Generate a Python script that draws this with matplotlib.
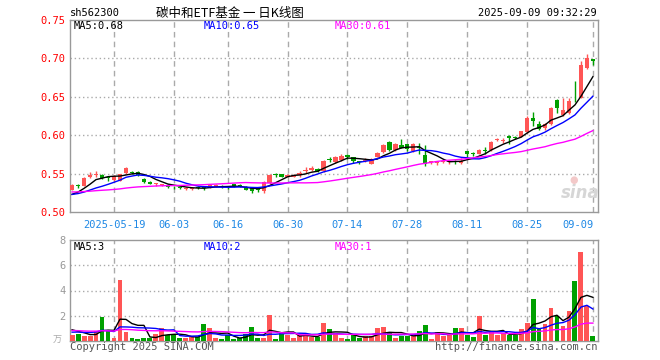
import matplotlib
matplotlib.use("Agg")
import matplotlib.pyplot as plt
import numpy as np
import pandas as pd

# trading days shown, 2025-05-08 .. 2025-09-09
dates = (
    ["05-08", "05-09", "05-12", "05-13", "05-14", "05-15", "05-16", "05-19", "05-20",
     "05-21", "05-22", "05-23", "05-26", "05-27", "05-28", "05-29", "05-30"]
    + ["06-03", "06-04", "06-05", "06-06", "06-09", "06-10", "06-11", "06-12", "06-13",
       "06-16", "06-17", "06-18", "06-19", "06-20", "06-23", "06-24", "06-25", "06-26",
       "06-27", "06-30"]
    + ["07-01", "07-02", "07-03", "07-04", "07-07", "07-08", "07-09", "07-10", "07-11",
       "07-14", "07-15", "07-16", "07-17", "07-18", "07-21", "07-22", "07-23", "07-24",
       "07-25", "07-28", "07-29", "07-30", "07-31"]
    + ["08-01", "08-04", "08-05", "08-06", "08-07", "08-08", "08-11", "08-12", "08-13",
       "08-14", "08-15", "08-18", "08-19", "08-20", "08-21", "08-22", "08-25", "08-26",
       "08-27", "08-28", "08-29"]
    + ["09-01", "09-02", "09-03", "09-04", "09-05", "09-08", "09-09"]
)

open_ = [0.529, 0.535, 0.534, 0.546, 0.548, 0.548, 0.545, 0.542, 0.541, 0.551,
         0.552, 0.552, 0.543, 0.539, 0.537, 0.535, 0.535, 0.533, 0.532, 0.530,
         0.530, 0.532, 0.532, 0.532, 0.533, 0.534, 0.533, 0.536, 0.535, 0.533,
         0.532, 0.530, 0.527, 0.538, 0.549, 0.549, 0.545, 0.546, 0.548, 0.553,
         0.555, 0.556, 0.553, 0.569, 0.565, 0.568, 0.574, 0.571, 0.566, 0.567,
         0.563, 0.572, 0.578, 0.591, 0.581, 0.587, 0.588, 0.579, 0.584, 0.574,
         0.565, 0.564, 0.565, 0.565, 0.567, 0.564, 0.579, 0.577, 0.575, 0.581,
         0.581, 0.594, 0.593, 0.599, 0.598, 0.598, 0.604, 0.622, 0.615, 0.609,
         0.614, 0.646, 0.626, 0.629, 0.649, 0.649, 0.687, 0.699]
high = [0.536, 0.537, 0.545, 0.552, 0.553, 0.549, 0.546, 0.548, 0.550, 0.559,
        0.553, 0.553, 0.544, 0.540, 0.538, 0.537, 0.536, 0.534, 0.533, 0.532,
        0.532, 0.534, 0.533, 0.536, 0.537, 0.535, 0.534, 0.537, 0.536, 0.534,
        0.533, 0.531, 0.540, 0.549, 0.551, 0.550, 0.549, 0.549, 0.553, 0.558,
        0.560, 0.557, 0.568, 0.572, 0.573, 0.575, 0.575, 0.572, 0.567, 0.570,
        0.570, 0.578, 0.588, 0.593, 0.590, 0.595, 0.589, 0.590, 0.590, 0.587,
        0.567, 0.567, 0.568, 0.568, 0.568, 0.570, 0.580, 0.578, 0.582, 0.584,
        0.592, 0.597, 0.596, 0.600, 0.599, 0.606, 0.625, 0.630, 0.619, 0.616,
        0.637, 0.647, 0.648, 0.648, 0.670, 0.696, 0.706, 0.699]
low = [0.528, 0.531, 0.534, 0.544, 0.546, 0.543, 0.541, 0.541, 0.540, 0.550,
       0.550, 0.547, 0.538, 0.536, 0.534, 0.534, 0.531, 0.530, 0.530, 0.529,
       0.529, 0.530, 0.528, 0.531, 0.532, 0.531, 0.530, 0.532, 0.533, 0.528,
       0.525, 0.526, 0.525, 0.537, 0.545, 0.545, 0.545, 0.545, 0.545, 0.551,
       0.553, 0.552, 0.552, 0.565, 0.564, 0.567, 0.569, 0.564, 0.563, 0.565,
       0.562, 0.571, 0.577, 0.580, 0.580, 0.583, 0.580, 0.578, 0.576, 0.560,
       0.562, 0.561, 0.564, 0.563, 0.563, 0.563, 0.571, 0.573, 0.575, 0.576,
       0.580, 0.592, 0.590, 0.589, 0.595, 0.598, 0.603, 0.612, 0.607, 0.607,
       0.613, 0.629, 0.625, 0.628, 0.643, 0.648, 0.686, 0.692]
close = [0.535, 0.534, 0.544, 0.548, 0.550, 0.544, 0.544, 0.547, 0.549, 0.557,
         0.551, 0.548, 0.539, 0.537, 0.537, 0.536, 0.533, 0.532, 0.531, 0.531,
         0.531, 0.531, 0.531, 0.535, 0.535, 0.533, 0.532, 0.533, 0.534, 0.529,
         0.527, 0.529, 0.539, 0.548, 0.548, 0.546, 0.548, 0.548, 0.551, 0.555,
         0.557, 0.554, 0.567, 0.568, 0.572, 0.573, 0.571, 0.566, 0.565, 0.568,
         0.569, 0.577, 0.587, 0.581, 0.589, 0.583, 0.582, 0.588, 0.583, 0.563,
         0.566, 0.565, 0.567, 0.566, 0.565, 0.567, 0.576, 0.575, 0.581, 0.580,
         0.591, 0.595, 0.594, 0.596, 0.597, 0.605, 0.622, 0.618, 0.608, 0.614,
         0.636, 0.636, 0.633, 0.644, 0.648, 0.692, 0.700, 0.697]
volume = [0.45, 0.57, 0.36, 0.36, 0.83, 1.92, 0.83, 0.26, 4.80, 0.75,
          0.26, 0.13, 0.26, 0.20, 0.52, 1.04, 0.44, 0.44, 0.26, 0.26,
          0.30, 0.30, 1.35, 1.04, 0.20, 0.13, 0.44, 0.13, 0.26, 0.57,
          1.14, 0.20, 0.26, 2.08, 0.13, 0.60, 0.50, 0.25, 0.45, 0.45,
          0.30, 0.30, 1.45, 0.93, 0.63, 0.26, 0.19, 0.45, 0.26, 0.37,
          0.37, 1.00, 1.08, 0.63, 0.26, 0.37, 0.37, 0.42, 0.77, 1.24,
          0.13, 0.69, 0.37, 0.50, 1.00, 1.00, 0.45, 0.29, 1.96, 0.45,
          0.69, 0.45, 0.63, 0.45, 0.45, 0.93, 1.40, 3.30, 0.98, 1.32,
          2.60, 2.00, 1.16, 2.35, 4.73, 7.04, 2.80, 0.37]

# sessions before the window, needed for the moving averages
prior_close = [0.532, 0.530, 0.533, 0.531, 0.528, 0.530, 0.529, 0.527, 0.525, 0.526,
               0.528, 0.527, 0.526, 0.524, 0.527, 0.529, 0.528, 0.526, 0.525, 0.523,
               0.523, 0.524, 0.522, 0.523, 0.522, 0.519, 0.520, 0.521, 0.520]
prior_volume = [0.9, 1.1, 0.8, 0.7, 1.2, 0.9, 0.8, 1.0, 0.7, 0.9,
                1.3, 0.8, 0.9, 0.7, 0.8, 1.0, 0.9, 0.8, 0.8, 0.9,
                0.5, 0.6, 0.4, 0.5, 0.55, 1.2, 0.9, 1.1, 0.8]

label_dates = ["05-19", "06-03", "06-16", "06-30", "07-14", "07-28", "08-11", "08-25", "09-09"]
label_text = ["2025-05-19", "06-03", "06-16", "06-30", "07-14", "07-28", "08-11", "08-25", "09-09"]
price_ticks = [0.50, 0.55, 0.60, 0.65, 0.70, 0.75]
volume_ticks = [2, 4, 6, 8]

UP = "#ff5555"
DOWN = "#00a000"
GRID = "#aaaaaa"
MONO = ["DejaVu Sans Mono", "Noto Sans CJK SC"]

n = len(close)
x = np.arange(n)
pc = pd.Series(prior_close + close)
pv = pd.Series(prior_volume + volume)
k = len(prior_close)
ma_price = {w: pc.rolling(w).mean().to_numpy()[k:] for w in (5, 10, 30)}
ma_vol = {w: pv.rolling(w).mean().to_numpy()[k:] for w in (5, 10, 30)}
ma_colors = {5: "#000000", 10: "#0000ff", 30: "#ff00ff"}

W, H = 660, 360
fig = plt.figure(figsize=(W / 100, H / 100), dpi=100)
ax = fig.add_axes([70 / W, 1 - 212 / H, 528 / W, 192 / H])
axv = fig.add_axes([70 / W, 1 - 341 / H, 528 / W, 101 / H])

xlim = (-0.35, n - 1 + 0.85)
label_idx = [dates.index(d) for d in label_dates]

for a in (ax, axv):
    a.set_xlim(*xlim)
    a.set_xticks([])
    for s in a.spines.values():
        s.set_color("#999999")
        s.set_linewidth(1)
    for i in label_idx:
        a.axvline(i, color=GRID, lw=1, ls=(0, (4, 3)), zorder=0)
    a.tick_params(axis="y", length=0, pad=3)

# price panel
ax.set_ylim(0.50, 0.75)
ax.set_yticks(price_ticks)
ax.set_yticklabels([f"{t:.2f}" for t in price_ticks], color="#ff0000",
                   fontfamily=MONO, fontsize=7.5)
for t in price_ticks[1:-1]:
    ax.axhline(t, color=GRID, lw=1, ls=(0, (1, 2)), zorder=0)

colors = [UP if c >= o else DOWN for o, c in zip(open_, close)]
ax.vlines(x, low, high, colors=colors, lw=1, zorder=2)
body_lo = np.minimum(open_, close)
body_h = np.maximum(np.abs(np.array(close) - np.array(open_)), 0.0008)
ax.bar(x, body_h, bottom=body_lo, width=0.72, color=colors, lw=0, zorder=3)
for w in (5, 10, 30):
    ax.plot(x, ma_price[w], color=ma_colors[w], lw=1, zorder=4)

# volume panel
axv.set_ylim(0, 8)
axv.set_yticks(volume_ticks)
axv.set_yticklabels([str(t) for t in volume_ticks], color="#999999",
                    fontfamily=MONO, fontsize=7.5)
for t in volume_ticks[:-1]:
    axv.axhline(t, color=GRID, lw=1, ls=(0, (1, 2)), zorder=0)
axv.bar(x, volume, width=0.82, color=colors, lw=0, zorder=3)
for w in (5, 10, 30):
    axv.plot(x, ma_vol[w], color=ma_colors[w], lw=1, zorder=4)

# date labels under the price panel
for i, t in zip(label_idx, label_text):
    ha = "right" if i == n - 1 else "center"
    ax.text(i + (0.1 if ha == "right" else 0), 0.50 - 0.011, t, ha=ha, va="top",
            color="#1e88e5", fontfamily=MONO, fontsize=7.5)


def ftext(px, py, s, **kw):
    kw.setdefault("fontfamily", MONO)
    kw.setdefault("fontsize", 7.5)
    kw.setdefault("va", "center")
    fig.text(px / W, 1 - py / H, s, **kw)


ftext(70, 13, "sh562300", color="#000000")
ftext(230, 13, "碳中和ETF基金 一 日K线图", ha="center", color="#000000",
      fontfamily=["Noto Sans CJK SC", "DejaVu Sans"], fontsize=9)
ftext(597, 13, "2025-09-09 09:32:29", ha="right", color="#000000")

ftext(74, 26, f"MA5:{ma_price[5][-1]:.2f}", color=ma_colors[5])
ftext(204, 26, f"MA10:{ma_price[10][-1]:.2f}", color=ma_colors[10])
ftext(335, 26, f"MA30:{ma_price[30][-1]:.2f}", color=ma_colors[30])

ftext(74, 247, f"MA5:{int(ma_vol[5][-1])}", color=ma_colors[5])
ftext(204, 247, f"MA10:{int(ma_vol[10][-1])}", color=ma_colors[10])
ftext(335, 247, f"MA30:{int(ma_vol[30][-1])}", color=ma_colors[30])

ftext(57, 340, "万", ha="center", color="#aaaaaa",
      fontfamily=["Noto Sans CJK SC", "DejaVu Sans"], fontsize=6.5)
ftext(70, 347, "Copyright 2025 SINA.COM", color="#555555")
ftext(597, 347, "http://finance.sina.com.cn", ha="right", color="#555555")

# faint sina watermark
ftext(580, 193, "sina", ha="center", color="#d6d6d6", fontfamily="DejaVu Sans",
      fontsize=12, fontweight="bold", fontstyle="italic")
ftext(574, 180, "●", ha="center", color="#f3c9c9", fontfamily="DejaVu Sans", fontsize=7)

fig.savefig("out.png", dpi=100)
